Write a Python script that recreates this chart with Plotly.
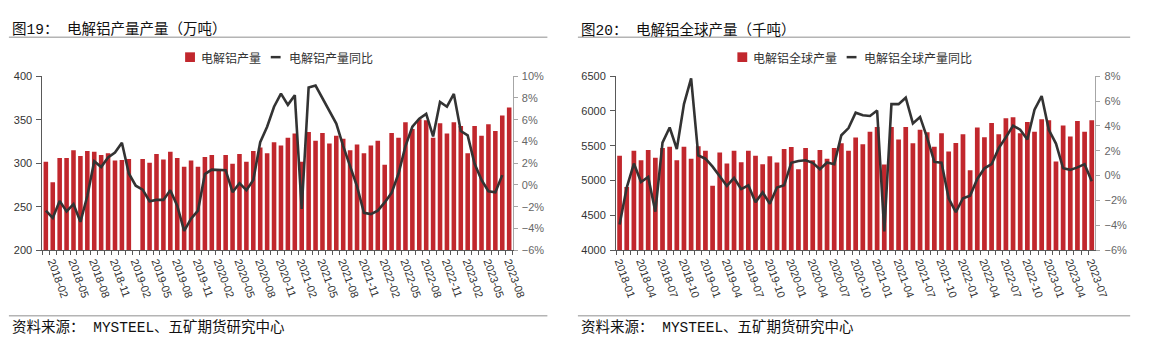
import plotly.graph_objects as go

W, H = 1156, 344

# ---------------- data ----------------
months_left = [f"{y}-{m:02d}" for y in range(2018, 2024) for m in range(1, 13)][:68]   # 2018-01 .. 2023-08
months_right = [f"{y}-{m:02d}" for y in range(2018, 2024) for m in range(1, 13)][:67]  # 2018-01 .. 2023-07

output_cn = [301.5, 278, 306, 306, 314.8, 308.1, 314.1, 313, 309.3, 311.5,
             303, 303.7, 304.8, None, 304.8, 300.4, 310.4, 304.1, 313, 306,
             296, 303, 296, 307, 309.3, 292, 309.3, 299.3, 310.4, 301.5,
             314.1, 318.1, 311.5, 324.1, 320.4, 329.3, 334.1, 301.5, 335.9, 325.9,
             334.8, 322.6, 331.5, 328.1, 314.8, 321.5, 311.5, 320.4, 325.9, 298.1,
             334.8, 329.3, 347, 339.3, 350.4, 349.3, 329.3, 345.9, 334.1, 347,
             342.6, 311.5, 342.6, 331.5, 344.8, 337, 354.8, 364.1]

yoy_cn = [-2.36, -3.04, -1.47, -2.44, -1.76, -3.39, -1.02, 2.18, 1.64, 2.53,
          2.98, 3.87, 1.05, -0.07, -0.43, -1.50, -1.38, -1.38, -0.49, -1.91,
          -4.22, -3.10, -2.36, 1.0, 1.41, 1.41, 1.35, -0.67, 0.16, -0.49,
          0.46, 3.93, 5.35, 7.19, 8.4, 7.36, 8.25, -2.21, 8.96, 9.14,
          8.01, 6.83, 5.64, 3.57, 1.64, -0.13, -2.56, -2.68, -2.36, -1.61,
          -0.73, 1.05, 3.57, 5.35, 6.09, 6.53, 4.46, 7.63, 7.19, 8.37,
          4.96, 4.55, 1.94, 0.46, -0.58, -0.67, 0.90, None]

output_world = [5356, 4908, 5430, 5291, 5439, 5328, 5467, 5485, 5291, 5485,
                5314, 5494, 5430, 4927, 5402, 5245, 5430, 5264, 5430, 5356,
                5234, 5351, 5259, 5453, 5481, 5162, 5467, 5291, 5439, 5314,
                5467, 5536, 5430, 5619, 5522, 5702, 5771, 5231, 5771, 5591,
                5771, 5536, 5730, 5693, 5485, 5679, 5416, 5541, 5665, 5148,
                5762, 5624, 5827, 5665, 5896, 5910, 5679, 5840, 5702, 5882,
                5868, 5273, 5790, 5633, 5854, 5702, 5868]

yoy_world = [-3.93, -0.96, 0.97, -0.52, -0.11, -2.90, 2.65, 3.87, 2.14, 5.75,
             7.82, 1.62, 1.36, 0.72, -0.06, -0.83, -0.19, -1.09, -0.78, -2.15,
             -1.35, -2.26, -0.96, -0.78, 1.03, 1.18, 1.23, 1.03, 0.51, 1.05,
             0.92, 3.25, 3.82, 5.06, 4.85, 4.80, 5.24, -4.50, 5.75, 5.75,
             6.27, 4.20, 4.72, 3.04, 1.10, 1.03, -1.82, -2.95, -1.82, -1.61,
             -0.27, 0.59, 0.92, 2.21, 3.09, 4.02, 3.69, 2.91, 5.31, 6.40,
             3.69, 2.58, 0.59, 0.46, 0.66, 0.92, -0.45]

ticktext_left = [m if i % 3 == 1 else "" for i, m in enumerate(months_left)]
ticktext_right = [m if i % 3 == 0 else "" for i, m in enumerate(months_right)]

title_left = "图19：\u00a0电解铝产量产量（万吨）"
title_right = "图20：\u00a0电解铝全球产量（千吨）"
source_text = "资料来源：\u00a0MYSTEEL、五矿期货研究中心"
legend_left = ["电解铝产量", "电解铝产量同比"]
legend_right = ["电解铝全球产量", "电解铝全球产量同比"]

BAR = "#C1272D"
LINE = "#333333"

def px(x):
    return x / W

def py(y):
    return 1 - y / H

fig = go.Figure()
fig.add_trace(go.Bar(x=months_left, y=output_cn, marker_color=BAR, marker_line_width=0,
                     name=legend_left[0], xaxis="x", yaxis="y", showlegend=False))
fig.add_trace(go.Scatter(x=months_left, y=yoy_cn, mode="lines", line=dict(color=LINE, width=2.6),
                         name=legend_left[1], xaxis="x", yaxis="y2", showlegend=False))
fig.add_trace(go.Bar(x=months_right, y=output_world, marker_color=BAR, marker_line_width=0,
                     name=legend_right[0], xaxis="x2", yaxis="y3", showlegend=False))
fig.add_trace(go.Scatter(x=months_right, y=yoy_world, mode="lines", line=dict(color=LINE, width=2.6),
                         name=legend_right[1], xaxis="x2", yaxis="y4", showlegend=False))

tickfont = dict(family="Liberation Sans, Arial, sans-serif", size=11, color="#333333")
tickfont_r = dict(family="Liberation Sans, Arial, sans-serif", size=11, color="#666666")
ydom = [py(253), py(72.7)]

def xaxis_cfg(dom, cats, ttext, anchor):
    return dict(domain=dom, anchor=anchor, type="category", categoryorder="array",
                categoryarray=cats, range=[-0.5, len(cats) - 0.5],
                tickmode="array", tickvals=cats, ticktext=ttext, tickangle=70,
                tickson="boundaries", ticks="outside", ticklen=4, tickcolor="#595959",
                showline=True, linecolor="#595959", linewidth=1, showgrid=False,
                tickfont=tickfont, fixedrange=True)

def yaxis_left(anchor, rng, dtick):
    return dict(domain=ydom, anchor=anchor, range=rng, dtick=dtick, tick0=rng[0],
                ticks="outside", ticklen=5, tickcolor="#595959", showline=True,
                linecolor="#595959", linewidth=1, showgrid=False, zeroline=False,
                tickfont=tickfont, ticklabelstandoff=2)

def yaxis_right(overlay, anchor, rng):
    return dict(overlaying=overlay, anchor=anchor, side="right", range=rng, dtick=2, tick0=rng[0],
                ticksuffix="%", ticks="outside", ticklen=4, tickcolor="#a6a6a6", showline=True,
                linecolor="#a6a6a6", linewidth=1, showgrid=False, zeroline=False,
                tickfont=tickfont_r, ticklabelstandoff=2)

shapes = []
annotations = []

def panel_frame(x0, x1, tx, title, legx, legtexts, legw):
    # title underline and source line
    shapes.append(dict(type="line", xref="paper", yref="paper", x0=px(x0), x1=px(x1),
                       y0=py(32.3), y1=py(32.3), line=dict(color="#b4b4b4", width=1.5)))
    shapes.append(dict(type="line", xref="paper", yref="paper", x0=px(x0), x1=px(x1),
                       y0=py(321), y1=py(321), line=dict(color="#b4b4b4", width=1.5)))
    annotations.append(dict(text=title, xref="paper", yref="paper", x=px(tx), y=py(24.5),
                            xanchor="left", yanchor="middle", showarrow=False,
                            font=dict(family="Liberation Mono, Noto Sans CJK SC", size=14.5, color="#111111")))
    annotations.append(dict(text=source_text, xref="paper", yref="paper", x=px(tx), y=py(333),
                            xanchor="left", yanchor="middle", showarrow=False,
                            font=dict(family="Liberation Mono, Noto Sans CJK SC", size=14.5, color="#111111")))
    # legend: bar square
    shapes.append(dict(type="rect", xref="paper", yref="paper", x0=px(legx), x1=px(legx + 10),
                       y0=py(58), y1=py(48), fillcolor=BAR, line=dict(width=0)))
    annotations.append(dict(text=legtexts[0], xref="paper", yref="paper", x=px(legx + 14), y=py(53),
                            xanchor="left", yanchor="middle", showarrow=False,
                            font=dict(family="Noto Sans CJK SC", size=12, color="#333333")))
    lx = legx + 14 + legw + 13
    shapes.append(dict(type="line", xref="paper", yref="paper", x0=px(lx), x1=px(lx + 10),
                       y0=py(53), y1=py(53), line=dict(color=LINE, width=2.5)))
    annotations.append(dict(text=legtexts[1], xref="paper", yref="paper", x=px(lx + 16), y=py(53),
                            xanchor="left", yanchor="middle", showarrow=False,
                            font=dict(family="Noto Sans CJK SC", size=12, color="#333333")))

panel_frame(6, 553, 7, title_left, 185, legend_left, 60)
panel_frame(584, 1145, 585, title_right, 746, legend_right, 84)

fig.update_layout(
    width=W, height=H, margin=dict(l=0, r=0, t=0, b=0),
    paper_bgcolor="white", plot_bgcolor="white",
    bargap=0.34, showlegend=False,
    xaxis=xaxis_cfg([px(40), px(517.7)], months_left, ticktext_left, "y"),
    yaxis=yaxis_left("x", [200, 400], 50),
    yaxis2=yaxis_right("y", "x", [-6, 10]),
    xaxis2=xaxis_cfg([px(622.7), px(1109.6)], months_right, ticktext_right, "y3"),
    yaxis3=yaxis_left("x2", [4000, 6500], 500),
    yaxis4=yaxis_right("y3", "x2", [-6, 8]),
    shapes=shapes, annotations=annotations,
)
fig.update_layout(yaxis2=dict(side="right"), yaxis4=dict(side="right"))

fig.write_html("out.html", config={"displayModeBar": False})
